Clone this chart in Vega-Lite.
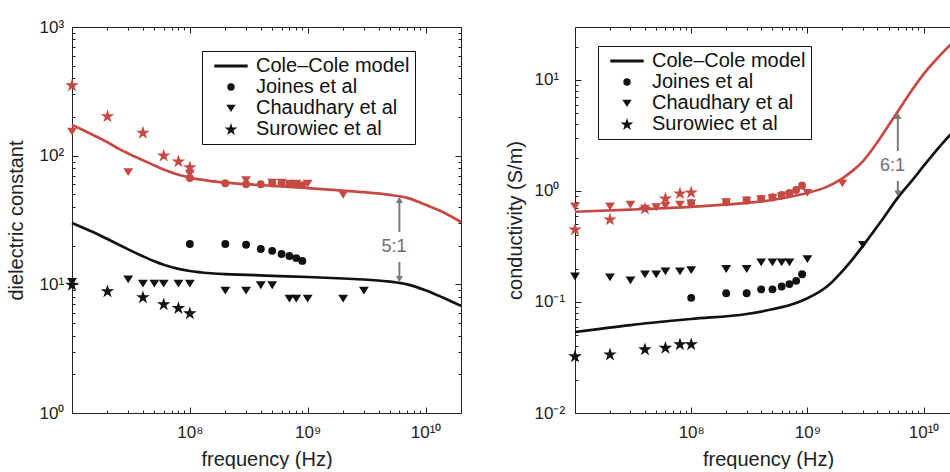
{
"$schema": "https://vega.github.io/schema/vega-lite/v6.json",
"padding": {"left": 6, "top": 18, "right": 0, "bottom": 0},
"background": "white",
"bounds": "flush",
"spacing": 114,
"config": {
  "view": {"stroke": null},
  "font": "Liberation Sans",
  "axis": {"grid": false, "domainColor": "#222", "domainWidth": 1, "tickColor": "#222", "tickWidth": 1, "labelColor": "#222", "titleColor": "#222", "labelFont": "Liberation Sans", "titleFont": "Liberation Sans", "labelFontSize": 17, "titleFontSize": 20, "titleFontWeight": "normal", "labelOverlap": false, "labelFlush": false, "labelBound": false}
},
"datasets": {
  "epsModel": [
    {"tissue":"malignant","f":1e7,"v":173},{"tissue":"malignant","f":1.3e7,"v":155},{"tissue":"malignant","f":1.7e7,"v":137},{"tissue":"malignant","f":2e7,"v":127},{"tissue":"malignant","f":2.5e7,"v":113},{"tissue":"malignant","f":3e7,"v":104},{"tissue":"malignant","f":4e7,"v":92},{"tissue":"malignant","f":5e7,"v":84},{"tissue":"malignant","f":6e7,"v":78},{"tissue":"malignant","f":8e7,"v":71},{"tissue":"malignant","f":1e8,"v":67.5},{"tissue":"malignant","f":1.5e8,"v":63.5},{"tissue":"malignant","f":2e8,"v":61.8},{"tissue":"malignant","f":3e8,"v":60},{"tissue":"malignant","f":5e8,"v":58.3},{"tissue":"malignant","f":1e9,"v":56},{"tissue":"malignant","f":2e9,"v":53.5},{"tissue":"malignant","f":3e9,"v":52},{"tissue":"malignant","f":5e9,"v":49.5},{"tissue":"malignant","f":7e9,"v":47},{"tissue":"malignant","f":1e10,"v":41.5},{"tissue":"malignant","f":1.4e10,"v":36.5},{"tissue":"malignant","f":2e10,"v":30.5},
    {"tissue":"normal","f":1e7,"v":30},{"tissue":"normal","f":1.3e7,"v":27},{"tissue":"normal","f":1.7e7,"v":24.2},{"tissue":"normal","f":2e7,"v":22.5},{"tissue":"normal","f":2.5e7,"v":20.3},{"tissue":"normal","f":3e7,"v":18.7},{"tissue":"normal","f":4e7,"v":16.5},{"tissue":"normal","f":5e7,"v":15.1},{"tissue":"normal","f":6e7,"v":14.2},{"tissue":"normal","f":8e7,"v":13.2},{"tissue":"normal","f":1e8,"v":12.7},{"tissue":"normal","f":1.5e8,"v":12.2},{"tissue":"normal","f":2e8,"v":12.0},{"tissue":"normal","f":3e8,"v":11.85},{"tissue":"normal","f":5e8,"v":11.65},{"tissue":"normal","f":1e9,"v":11.4},{"tissue":"normal","f":2e9,"v":11.1},{"tissue":"normal","f":3e9,"v":10.9},{"tissue":"normal","f":5e9,"v":10.5},{"tissue":"normal","f":7e9,"v":10.0},{"tissue":"normal","f":1e10,"v":9.0},{"tissue":"normal","f":1.4e10,"v":7.9},{"tissue":"normal","f":2e10,"v":6.8}
  ],
  "epsPts": [
    {"tissue":"normal","source":"Joines et al","f":1e8,"v":20.6},{"tissue":"normal","source":"Joines et al","f":2e8,"v":20.6},{"tissue":"normal","source":"Joines et al","f":3e8,"v":20.3},{"tissue":"normal","source":"Joines et al","f":4e8,"v":18.8},{"tissue":"normal","source":"Joines et al","f":5e8,"v":18.2},{"tissue":"normal","source":"Joines et al","f":6e8,"v":17.2},{"tissue":"normal","source":"Joines et al","f":7e8,"v":16.6},{"tissue":"normal","source":"Joines et al","f":8e8,"v":16.0},{"tissue":"normal","source":"Joines et al","f":9e8,"v":15.2},
    {"tissue":"malignant","source":"Joines et al","f":1e8,"v":67},{"tissue":"malignant","source":"Joines et al","f":2e8,"v":61},{"tissue":"malignant","source":"Joines et al","f":3e8,"v":60},{"tissue":"malignant","source":"Joines et al","f":4e8,"v":60},{"tissue":"malignant","source":"Joines et al","f":5e8,"v":61},{"tissue":"malignant","source":"Joines et al","f":6e8,"v":61},{"tissue":"malignant","source":"Joines et al","f":7e8,"v":60},{"tissue":"malignant","source":"Joines et al","f":8e8,"v":60},{"tissue":"malignant","source":"Joines et al","f":9e8,"v":59},
    {"tissue":"normal","source":"Chaudhary et al","f":1e7,"v":10.5},{"tissue":"normal","source":"Chaudhary et al","f":3e7,"v":11.0},{"tissue":"normal","source":"Chaudhary et al","f":4e7,"v":10.2},{"tissue":"normal","source":"Chaudhary et al","f":5e7,"v":10.2},{"tissue":"normal","source":"Chaudhary et al","f":6e7,"v":10.2},{"tissue":"normal","source":"Chaudhary et al","f":8e7,"v":10.2},{"tissue":"normal","source":"Chaudhary et al","f":1e8,"v":10.2},{"tissue":"normal","source":"Chaudhary et al","f":2e8,"v":9.0},{"tissue":"normal","source":"Chaudhary et al","f":3e8,"v":9.0},{"tissue":"normal","source":"Chaudhary et al","f":4e8,"v":9.9},{"tissue":"normal","source":"Chaudhary et al","f":5e8,"v":9.9},{"tissue":"normal","source":"Chaudhary et al","f":7e8,"v":7.8},{"tissue":"normal","source":"Chaudhary et al","f":8e8,"v":7.8},{"tissue":"normal","source":"Chaudhary et al","f":1e9,"v":7.8},{"tissue":"normal","source":"Chaudhary et al","f":2e9,"v":7.8},{"tissue":"normal","source":"Chaudhary et al","f":3e9,"v":9.0},
    {"tissue":"malignant","source":"Chaudhary et al","f":1e7,"v":155},{"tissue":"malignant","source":"Chaudhary et al","f":3e7,"v":75},{"tissue":"malignant","source":"Chaudhary et al","f":1e8,"v":73},{"tissue":"malignant","source":"Chaudhary et al","f":3e8,"v":65},{"tissue":"malignant","source":"Chaudhary et al","f":5e8,"v":62},{"tissue":"malignant","source":"Chaudhary et al","f":6e8,"v":62},{"tissue":"malignant","source":"Chaudhary et al","f":7e8,"v":61},{"tissue":"malignant","source":"Chaudhary et al","f":8e8,"v":61},{"tissue":"malignant","source":"Chaudhary et al","f":1e9,"v":61},{"tissue":"malignant","source":"Chaudhary et al","f":2e9,"v":50},
    {"tissue":"normal","source":"Surowiec et al","f":1e7,"v":10},{"tissue":"normal","source":"Surowiec et al","f":2e7,"v":8.9},{"tissue":"normal","source":"Surowiec et al","f":4e7,"v":8.0},{"tissue":"normal","source":"Surowiec et al","f":6e7,"v":7.05},{"tissue":"normal","source":"Surowiec et al","f":8e7,"v":6.6},{"tissue":"normal","source":"Surowiec et al","f":1e8,"v":6.0},
    {"tissue":"malignant","source":"Surowiec et al","f":1e7,"v":355},{"tissue":"malignant","source":"Surowiec et al","f":2e7,"v":204},{"tissue":"malignant","source":"Surowiec et al","f":4e7,"v":152},{"tissue":"malignant","source":"Surowiec et al","f":6e7,"v":101},{"tissue":"malignant","source":"Surowiec et al","f":8e7,"v":91},{"tissue":"malignant","source":"Surowiec et al","f":1e8,"v":82}
  ],
  "epsArrow": [{"f":6e9,"v1":45.3,"v2":25.5},{"f":6e9,"v1":14.9,"v2":11.0}],
  "epsUp": [{"f":6e9,"v":45.3}],
  "epsDown": [{"f":6e9,"v":11.0}],
  "epsLabel": [{"f":5.4e9,"v":19.5,"label":"5:1"}],
  "sigModel": [
    {"tissue":"malignant","f":1e7,"v":0.65},{"tissue":"malignant","f":3e7,"v":0.68},{"tissue":"malignant","f":1e8,"v":0.72},{"tissue":"malignant","f":3e8,"v":0.78},{"tissue":"malignant","f":5e8,"v":0.83},{"tissue":"malignant","f":8e8,"v":0.91},{"tissue":"malignant","f":1e9,"v":0.96},{"tissue":"malignant","f":1.5e9,"v":1.1},{"tissue":"malignant","f":2e9,"v":1.3},{"tissue":"malignant","f":2.5e9,"v":1.55},{"tissue":"malignant","f":3e9,"v":1.85},{"tissue":"malignant","f":4e9,"v":2.75},{"tissue":"malignant","f":5e9,"v":3.9},{"tissue":"malignant","f":6e9,"v":5.2},{"tissue":"malignant","f":8e9,"v":8.2},{"tissue":"malignant","f":1e10,"v":11.3},{"tissue":"malignant","f":1.3e10,"v":15.5},{"tissue":"malignant","f":1.72e10,"v":21},
    {"tissue":"normal","f":1e7,"v":0.0537},{"tissue":"normal","f":3e7,"v":0.062},{"tissue":"normal","f":1e8,"v":0.0703},{"tissue":"normal","f":3e8,"v":0.078},{"tissue":"normal","f":5e8,"v":0.086},{"tissue":"normal","f":8e8,"v":0.098},{"tissue":"normal","f":1e9,"v":0.108},{"tissue":"normal","f":1.5e9,"v":0.14},{"tissue":"normal","f":2e9,"v":0.19},{"tissue":"normal","f":2.5e9,"v":0.25},{"tissue":"normal","f":3e9,"v":0.32},{"tissue":"normal","f":4.4e9,"v":0.55},{"tissue":"normal","f":6e9,"v":0.87},{"tissue":"normal","f":8e9,"v":1.25},{"tissue":"normal","f":1e10,"v":1.68},{"tissue":"normal","f":1.3e10,"v":2.35},{"tissue":"normal","f":1.72e10,"v":3.27}
  ],
  "sigPts": [
    {"tissue":"normal","source":"Joines et al","f":1e8,"v":0.109},{"tissue":"normal","source":"Joines et al","f":2e8,"v":0.12},{"tissue":"normal","source":"Joines et al","f":3e8,"v":0.12},{"tissue":"normal","source":"Joines et al","f":4e8,"v":0.13},{"tissue":"normal","source":"Joines et al","f":5e8,"v":0.13},{"tissue":"normal","source":"Joines et al","f":6e8,"v":0.138},{"tissue":"normal","source":"Joines et al","f":7e8,"v":0.145},{"tissue":"normal","source":"Joines et al","f":8e8,"v":0.155},{"tissue":"normal","source":"Joines et al","f":9e8,"v":0.178},
    {"tissue":"malignant","source":"Joines et al","f":1e8,"v":0.78},{"tissue":"malignant","source":"Joines et al","f":2e8,"v":0.79},{"tissue":"malignant","source":"Joines et al","f":3e8,"v":0.82},{"tissue":"malignant","source":"Joines et al","f":4e8,"v":0.85},{"tissue":"malignant","source":"Joines et al","f":5e8,"v":0.88},{"tissue":"malignant","source":"Joines et al","f":6e8,"v":0.92},{"tissue":"malignant","source":"Joines et al","f":7e8,"v":0.96},{"tissue":"malignant","source":"Joines et al","f":8e8,"v":1.02},{"tissue":"malignant","source":"Joines et al","f":9e8,"v":1.12},
    {"tissue":"normal","source":"Chaudhary et al","f":1e7,"v":0.171},{"tissue":"normal","source":"Chaudhary et al","f":2e7,"v":0.168},{"tissue":"normal","source":"Chaudhary et al","f":3e7,"v":0.158},{"tissue":"normal","source":"Chaudhary et al","f":4e7,"v":0.179},{"tissue":"normal","source":"Chaudhary et al","f":5e7,"v":0.179},{"tissue":"normal","source":"Chaudhary et al","f":6e7,"v":0.19},{"tissue":"normal","source":"Chaudhary et al","f":8e7,"v":0.19},{"tissue":"normal","source":"Chaudhary et al","f":1e8,"v":0.195},{"tissue":"normal","source":"Chaudhary et al","f":2e8,"v":0.2},{"tissue":"normal","source":"Chaudhary et al","f":3e8,"v":0.2},{"tissue":"normal","source":"Chaudhary et al","f":4e8,"v":0.229},{"tissue":"normal","source":"Chaudhary et al","f":5e8,"v":0.229},{"tissue":"normal","source":"Chaudhary et al","f":6e8,"v":0.229},{"tissue":"normal","source":"Chaudhary et al","f":7e8,"v":0.229},{"tissue":"normal","source":"Chaudhary et al","f":1e9,"v":0.245},{"tissue":"normal","source":"Chaudhary et al","f":3e9,"v":0.33},
    {"tissue":"malignant","source":"Chaudhary et al","f":1e7,"v":0.73},{"tissue":"malignant","source":"Chaudhary et al","f":2e7,"v":0.73},{"tissue":"malignant","source":"Chaudhary et al","f":3e7,"v":0.76},{"tissue":"malignant","source":"Chaudhary et al","f":4e7,"v":0.7},{"tissue":"malignant","source":"Chaudhary et al","f":5e7,"v":0.72},{"tissue":"malignant","source":"Chaudhary et al","f":6e7,"v":0.74},{"tissue":"malignant","source":"Chaudhary et al","f":8e7,"v":0.76},{"tissue":"malignant","source":"Chaudhary et al","f":1e8,"v":0.78},{"tissue":"malignant","source":"Chaudhary et al","f":2e8,"v":0.8},{"tissue":"malignant","source":"Chaudhary et al","f":3e8,"v":0.83},{"tissue":"malignant","source":"Chaudhary et al","f":4e8,"v":0.85},{"tissue":"malignant","source":"Chaudhary et al","f":5e8,"v":0.87},{"tissue":"malignant","source":"Chaudhary et al","f":6e8,"v":0.9},{"tissue":"malignant","source":"Chaudhary et al","f":7e8,"v":0.93},{"tissue":"malignant","source":"Chaudhary et al","f":1e9,"v":0.97},{"tissue":"malignant","source":"Chaudhary et al","f":2e9,"v":1.18},
    {"tissue":"normal","source":"Surowiec et al","f":1e7,"v":0.0327},{"tissue":"normal","source":"Surowiec et al","f":2e7,"v":0.034},{"tissue":"normal","source":"Surowiec et al","f":4e7,"v":0.0378},{"tissue":"normal","source":"Surowiec et al","f":6e7,"v":0.039},{"tissue":"normal","source":"Surowiec et al","f":8e7,"v":0.042},{"tissue":"normal","source":"Surowiec et al","f":1e8,"v":0.042},
    {"tissue":"malignant","source":"Surowiec et al","f":1e7,"v":0.455},{"tissue":"malignant","source":"Surowiec et al","f":2e7,"v":0.56},{"tissue":"malignant","source":"Surowiec et al","f":4e7,"v":0.7},{"tissue":"malignant","source":"Surowiec et al","f":6e7,"v":0.865},{"tissue":"malignant","source":"Surowiec et al","f":8e7,"v":0.96},{"tissue":"malignant","source":"Surowiec et al","f":1e8,"v":0.98}
  ],
  "sigArrow": [{"f":6e9,"v1":4.75,"v2":2.29},{"f":6e9,"v1":1.23,"v2":0.95}],
  "sigUp": [{"f":6e9,"v":4.75}],
  "sigDown": [{"f":6e9,"v":0.95}],
  "sigLabel": [{"f":5.4e9,"v":1.68,"label":"6:1"}]
},
"resolve": {"scale": {"x": "independent", "y": "independent", "color": "independent", "shape": "independent"}, "legend": {"shape": "independent"}},
"hconcat": [
  {
    "width": 389, "height": 386,
    "layer": [
      {
        "data": {"name": "epsModel"},
        "mark": {"type": "line", "strokeWidth": 2.7, "interpolate": "monotone"},
        "encoding": {
          "x": {"field": "f", "type": "quantitative", "scale": {"type": "log", "domain": [1e7, 2e10], "nice": false},
                "axis": {"orient": "bottom", "values": [1e7,2e7,3e7,4e7,5e7,6e7,7e7,8e7,9e7,1e8,2e8,3e8,4e8,5e8,6e8,7e8,8e8,9e8,1e9,2e9,3e9,4e9,5e9,6e9,7e9,8e9,9e9,1e10,2e10],
                         "labelExpr": "datum.value === 100000000 ? '10⁸' : datum.value === 1000000000 ? '10⁹' : datum.value === 10000000000 ? '10¹⁰' : ''",
                         "tickSize": {"condition": {"test": "indexof([10000000,100000000,1000000000,10000000000], datum.value) >= 0", "value": -6}, "value": -3},
                         "labelPadding": 17, "title": "frequency (Hz)", "titleY": 46, "titleBaseline": "middle"}},
          "y": {"field": "v", "type": "quantitative", "scale": {"type": "log", "domain": [1, 1000], "nice": false},
                "axis": {"orient": "left", "values": [1,2,3,4,5,6,7,8,9,10,20,30,40,50,60,70,80,90,100,200,300,400,500,600,700,800,900,1000],
                         "labelExpr": "datum.value === 1 ? '10⁰' : datum.value === 10 ? '10¹' : datum.value === 100 ? '10²' : datum.value === 1000 ? '10³' : ''",
                         "tickSize": {"condition": {"test": "indexof([1,10,100,1000], datum.value) >= 0", "value": -6}, "value": -3},
                         "labelAlign": "left", "labelBaseline": "middle", "labelPadding": 39,
                         "title": "dielectric constant", "titleX": -56, "titleBaseline": "middle"}},
          "color": {"field": "tissue", "type": "nominal", "scale": {"domain": ["malignant", "normal"], "range": ["#c64a44", "#111111"]}, "legend": null}
        }
      },
      {
        "data": {"name": "epsPts"},
        "mark": {"type": "point", "filled": true, "opacity": 1, "size": 62},
        "encoding": {
          "x": {"field": "f", "type": "quantitative", "scale": {"type": "log", "domain": [1e7, 2e10], "nice": false},
                "axis": {"orient": "top", "values": [1e7,2e7,3e7,4e7,5e7,6e7,7e7,8e7,9e7,1e8,2e8,3e8,4e8,5e8,6e8,7e8,8e8,9e8,1e9,2e9,3e9,4e9,5e9,6e9,7e9,8e9,9e9,1e10,2e10],
                         "labels": false, "title": null,
                         "tickSize": {"condition": {"test": "indexof([10000000,100000000,1000000000,10000000000], datum.value) >= 0", "value": -6}, "value": -3}}},
          "y": {"field": "v", "type": "quantitative", "scale": {"type": "log", "domain": [1, 1000], "nice": false},
                "axis": {"orient": "right", "values": [1,2,3,4,5,6,7,8,9,10,20,30,40,50,60,70,80,90,100,200,300,400,500,600,700,800,900,1000],
                         "labels": false, "title": null,
                         "tickSize": {"condition": {"test": "indexof([1,10,100,1000], datum.value) >= 0", "value": -6}, "value": -3}}},
          "color": {"field": "tissue", "type": "nominal", "scale": {"domain": ["malignant", "normal"], "range": ["#b9473f", "#111111"]}, "legend": null},
          "shape": {"field": "source", "type": "nominal",
                    "scale": {"domain": ["Cole–Cole model", "Joines et al", "Chaudhary et al", "Surowiec et al"],
                              "range": ["M-4.5,-0.42L4.5,-0.42L4.5,0.42L-4.5,0.42Z", "circle", "M-1.25,-0.9L1.25,-0.9L0,1.1Z", "M0,-1.63L0.405,-0.387L1.712,-0.387L0.654,0.383L1.058,1.626L0,0.859L-1.058,1.626L-0.654,0.383L-1.712,-0.387L-0.405,-0.387Z"]},
                    "legend": {"orient": "none", "legendX": 130, "legendY": 24, "title": null, "strokeColor": "#111", "fillColor": "white", "padding": 5,
                               "labelFont": "Liberation Sans", "labelFontSize": 20, "labelColor": "#111", "symbolSize": 55, "symbolOffset": 14, "labelOffset": 15, "rowPadding": 1,
                               "symbolFillColor": "#111", "symbolStrokeColor": "#111", "symbolStrokeWidth": 0,
                               "encode": {"symbols": {"update": {"fill": {"value": "#111"}, "opacity": {"value": 1}}}}}}
        }
      },
      {
        "data": {"name": "epsArrow"},
        "mark": {"type": "rule", "color": "#7a7a7a", "strokeWidth": 2},
        "encoding": {
          "x": {"field": "f", "type": "quantitative", "scale": {"type": "log", "domain": [1e7, 2e10], "nice": false}, "axis": null},
          "y": {"field": "v1", "type": "quantitative", "scale": {"type": "log", "domain": [1, 1000], "nice": false}, "axis": null},
          "y2": {"field": "v2"}
        }
      },
      {
        "data": {"name": "epsUp"},
        "mark": {"type": "point", "shape": "triangle-up", "filled": true, "color": "#7a7a7a", "opacity": 1, "size": 50},
        "encoding": {
          "x": {"field": "f", "type": "quantitative", "scale": {"type": "log", "domain": [1e7, 2e10], "nice": false}, "axis": null},
          "y": {"field": "v", "type": "quantitative", "scale": {"type": "log", "domain": [1, 1000], "nice": false}, "axis": null}
        }
      },
      {
        "data": {"name": "epsDown"},
        "mark": {"type": "point", "shape": "triangle-down", "filled": true, "color": "#7a7a7a", "opacity": 1, "size": 50},
        "encoding": {
          "x": {"field": "f", "type": "quantitative", "scale": {"type": "log", "domain": [1e7, 2e10], "nice": false}, "axis": null},
          "y": {"field": "v", "type": "quantitative", "scale": {"type": "log", "domain": [1, 1000], "nice": false}, "axis": null}
        }
      },
      {
        "data": {"name": "epsLabel"},
        "mark": {"type": "text", "font": "Liberation Sans", "fontSize": 18, "color": "#6f6f6f", "align": "center", "baseline": "middle"},
        "encoding": {
          "x": {"field": "f", "type": "quantitative", "scale": {"type": "log", "domain": [1e7, 2e10], "nice": false}, "axis": null},
          "y": {"field": "v", "type": "quantitative", "scale": {"type": "log", "domain": [1, 1000], "nice": false}, "axis": null},
          "text": {"field": "label"}
        }
      }
    ]
  },
  {
    "width": 376, "height": 386,
    "layer": [
      {
        "data": {"name": "sigModel"},
        "mark": {"type": "line", "strokeWidth": 2.7, "interpolate": "monotone"},
        "encoding": {
          "x": {"field": "f", "type": "quantitative", "scale": {"type": "log", "domain": [1e7, 1.72e10], "nice": false},
                "axis": {"orient": "bottom", "values": [1e7,2e7,3e7,4e7,5e7,6e7,7e7,8e7,9e7,1e8,2e8,3e8,4e8,5e8,6e8,7e8,8e8,9e8,1e9,2e9,3e9,4e9,5e9,6e9,7e9,8e9,9e9,1e10],
                         "labelExpr": "datum.value === 100000000 ? '10⁸' : datum.value === 1000000000 ? '10⁹' : datum.value === 10000000000 ? '10¹⁰' : ''",
                         "tickSize": {"condition": {"test": "indexof([10000000,100000000,1000000000,10000000000], datum.value) >= 0", "value": -6}, "value": -3},
                         "labelPadding": 17, "title": "frequency (Hz)", "titleY": 46, "titleX": 193, "titleBaseline": "middle"}},
          "y": {"field": "v", "type": "quantitative", "scale": {"type": "log", "domain": [0.01, 30], "nice": false},
                "axis": {"orient": "left", "values": [0.01,0.02,0.03,0.04,0.05,0.06,0.07,0.08,0.09,0.1,0.2,0.3,0.4,0.5,0.6,0.7,0.8,0.9,1,2,3,4,5,6,7,8,9,10,20,30],
                         "labelExpr": "datum.value === 0.01 ? '10⁻²' : datum.value === 0.1 ? '10⁻¹' : datum.value === 1 ? '10⁰' : datum.value === 10 ? '10¹' : ''",
                         "tickSize": {"condition": {"test": "indexof([0.01,0.1,1,10], datum.value) >= 0", "value": -6}, "value": -3},
                         "labelAlign": "left", "labelBaseline": "middle", "labelPadding": 47,
                         "title": "conductivity (S/m)", "titleX": -60, "titleBaseline": "middle"}},
          "color": {"field": "tissue", "type": "nominal", "scale": {"domain": ["malignant", "normal"], "range": ["#c64a44", "#111111"]}, "legend": null}
        }
      },
      {
        "data": {"name": "sigPts"},
        "mark": {"type": "point", "filled": true, "opacity": 1, "size": 62},
        "encoding": {
          "x": {"field": "f", "type": "quantitative", "scale": {"type": "log", "domain": [1e7, 1.72e10], "nice": false},
                "axis": {"orient": "top", "values": [1e7,2e7,3e7,4e7,5e7,6e7,7e7,8e7,9e7,1e8,2e8,3e8,4e8,5e8,6e8,7e8,8e8,9e8,1e9,2e9,3e9,4e9,5e9,6e9,7e9,8e9,9e9,1e10],
                         "labels": false, "title": null,
                         "tickSize": {"condition": {"test": "indexof([10000000,100000000,1000000000,10000000000], datum.value) >= 0", "value": -6}, "value": -3}}},
          "y": {"field": "v", "type": "quantitative", "scale": {"type": "log", "domain": [0.01, 30], "nice": false},
                "axis": {"orient": "right", "labels": false, "ticks": false, "domain": false, "title": null}},
          "color": {"field": "tissue", "type": "nominal", "scale": {"domain": ["malignant", "normal"], "range": ["#b9473f", "#111111"]}, "legend": null},
          "shape": {"field": "source", "type": "nominal",
                    "scale": {"domain": ["Cole–Cole model", "Joines et al", "Chaudhary et al", "Surowiec et al"],
                              "range": ["M-4.5,-0.42L4.5,-0.42L4.5,0.42L-4.5,0.42Z", "circle", "M-1.25,-0.9L1.25,-0.9L0,1.1Z", "M0,-1.63L0.405,-0.387L1.712,-0.387L0.654,0.383L1.058,1.626L0,0.859L-1.058,1.626L-0.654,0.383L-1.712,-0.387L-0.405,-0.387Z"]},
                    "legend": {"orient": "none", "legendX": 23, "legendY": 19, "title": null, "strokeColor": "#111", "fillColor": "white", "padding": 5,
                               "labelFont": "Liberation Sans", "labelFontSize": 20, "labelColor": "#111", "symbolSize": 55, "symbolOffset": 14, "labelOffset": 15, "rowPadding": 1,
                               "symbolFillColor": "#111", "symbolStrokeColor": "#111", "symbolStrokeWidth": 0,
                               "encode": {"symbols": {"update": {"fill": {"value": "#111"}, "opacity": {"value": 1}}}}}}
        }
      },
      {
        "data": {"name": "sigArrow"},
        "mark": {"type": "rule", "color": "#7a7a7a", "strokeWidth": 2},
        "encoding": {
          "x": {"field": "f", "type": "quantitative", "scale": {"type": "log", "domain": [1e7, 1.72e10], "nice": false}, "axis": null},
          "y": {"field": "v1", "type": "quantitative", "scale": {"type": "log", "domain": [0.01, 30], "nice": false}, "axis": null},
          "y2": {"field": "v2"}
        }
      },
      {
        "data": {"name": "sigUp"},
        "mark": {"type": "point", "shape": "triangle-up", "filled": true, "color": "#7a7a7a", "opacity": 1, "size": 50},
        "encoding": {
          "x": {"field": "f", "type": "quantitative", "scale": {"type": "log", "domain": [1e7, 1.72e10], "nice": false}, "axis": null},
          "y": {"field": "v", "type": "quantitative", "scale": {"type": "log", "domain": [0.01, 30], "nice": false}, "axis": null}
        }
      },
      {
        "data": {"name": "sigDown"},
        "mark": {"type": "point", "shape": "triangle-down", "filled": true, "color": "#7a7a7a", "opacity": 1, "size": 50},
        "encoding": {
          "x": {"field": "f", "type": "quantitative", "scale": {"type": "log", "domain": [1e7, 1.72e10], "nice": false}, "axis": null},
          "y": {"field": "v", "type": "quantitative", "scale": {"type": "log", "domain": [0.01, 30], "nice": false}, "axis": null}
        }
      },
      {
        "data": {"name": "sigLabel"},
        "mark": {"type": "text", "font": "Liberation Sans", "fontSize": 18, "color": "#6f6f6f", "align": "center", "baseline": "middle"},
        "encoding": {
          "x": {"field": "f", "type": "quantitative", "scale": {"type": "log", "domain": [1e7, 1.72e10], "nice": false}, "axis": null},
          "y": {"field": "v", "type": "quantitative", "scale": {"type": "log", "domain": [0.01, 30], "nice": false}, "axis": null},
          "text": {"field": "label"}
        }
      }
    ]
  }
]
}
